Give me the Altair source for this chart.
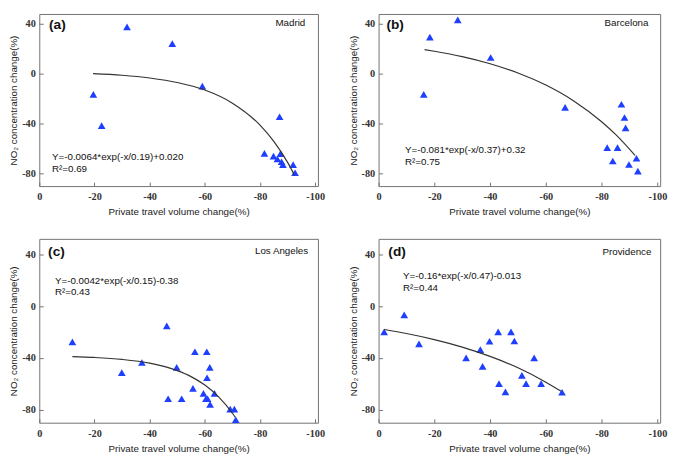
import altair as alt
import pandas as pd

# ---------------- data ----------------
X_TICKS = [0, -20, -40, -60, -80, -100]
Y_TICKS = [40, 0, -40, -80]

# (a) Madrid
a_x = [-31.8, -48.2, -59.1, -19.6, -22.6, -87.1, -81.6, -84.9, -86.3, -87.4, -87.8, -88.3, -92.0, -92.7]
a_y = [37.7, 24.2, -9.9, -16.4, -41.5, -34.4, -63.8, -66.0, -68.3, -64.0, -70.5, -72.8, -72.8, -79.3]
a_cx = [-19.5, -30, -40, -50, -60, -70, -80, -85, -90, -92.5]
a_cy = [0.2, -1.1, -3.3, -6.9, -13.0, -23.5, -41.1, -54.1, -71.0, -81.3]

# (b) Barcelona
b_x = [-28.4, -18.4, -40.2, -16.2, -66.9, -87.1, -88.2, -88.6, -82.0, -85.7, -84.0, -92.5, -89.8, -93.0]
b_y = [43.3, 29.4, 13.1, -16.4, -26.9, -24.4, -35.0, -43.3, -59.1, -59.1, -69.9, -67.7, -72.7, -78.0]
b_cx = [-16.5, -20, -30, -40, -50, -60, -70, -80, -85, -92]
b_cy = [19.4, 18.1, 13.8, 8.1, 0.7, -9.0, -21.7, -38.4, -48.6, -65.4]

# (c) Los Angeles
c_x = [-12.0, -29.9, -46.2, -37.2, -56.4, -60.7, -49.8, -61.8, -60.8, -55.7, -59.5, -60.4, -61.0,
       -61.9, -63.5, -46.7, -51.6, -69.2, -70.7, -71.2]
c_y = [-27.5, -51.3, -15.2, -43.5, -35.2, -35.2, -47.2, -47.2, -55.3, -63.5, -67.3, -71.5, -71.5,
       -75.8, -67.3, -71.5, -71.5, -79.5, -79.5, -87.7]
c_cx = [-12, -20, -30, -40, -50, -55, -60, -65, -70, -71]
c_cy = [-38.9, -39.6, -41.1, -44.0, -49.8, -54.4, -60.9, -70.0, -82.7, -85.8]

# (d) Providence
d_x = [-2.0, -9.2, -14.5, -31.4, -36.5, -37.3, -39.8, -42.9, -47.5, -48.7, -43.2, -45.5, -51.4,
       -52.9, -55.8, -58.3, -65.8]
d_y = [-19.8, -6.7, -29.1, -39.9, -33.5, -46.5, -27.1, -19.8, -19.8, -26.9, -59.8, -66.2, -53.4,
       -59.8, -39.9, -59.8, -66.5]
d_cx = [-2, -10, -20, -30, -40, -50, -60, -65.5]
d_cy = [-18.0, -21.1, -25.8, -31.6, -38.8, -47.6, -58.7, -65.8]

TAGS = ["(a)", "(b)", "(c)", "(d)"]
CITIES = ["Madrid", "Barcelona", "Los Angeles", "Providence"]
EQS = ["Y=-0.0064*exp(-x/0.19)+0.020", "Y=-0.081*exp(-x/0.37)+0.32",
       "Y=-0.0042*exp(-x/0.15)-0.38", "Y=-0.16*exp(-x/0.47)-0.013"]
R2S = ["R²=0.69", "R²=0.75", "R²=0.43", "R²=0.44"]

# ---------------- styling ----------------
GRAY = "#727272"
BLUE = "#1f3fff"
W1, W2 = 285, 288
H1, H2 = 176, 188
XD = [0, -101]
YD1 = [-90, 48]
YD2 = [-90, 52]
LAB = "datum.value < 0 ? '-' + abs(datum.value) : '' + datum.value"


def panel(px, py, cx, cy, idx, W, H, ydom, pos):
    xs = alt.Scale(domain=XD, nice=False, zero=False)
    ys = alt.Scale(domain=ydom, nice=False, zero=False)
    common_lab = dict(labelFont="Liberation Serif", labelFontWeight="bold", labelFontSize=10.5,
                      labelColor="#333", titleFont="Liberation Sans", titleFontSize=10,
                      titleFontWeight="normal", titleColor="#222", grid=False, domain=False,
                      ticks=False, labelExpr=LAB, minExtent=0, labelFlush=False)
    xaxis = alt.Axis(values=X_TICKS, labelPadding=6, titlePadding=5,
                     title="Private travel volume change(%)", **common_lab)
    yaxis = alt.Axis(values=Y_TICKS, labelPadding=4, titlePadding=3,
                     title="NO₂ concentration change(%)", **common_lab)
    xin = alt.Axis(orient="top", offset=-H, values=X_TICKS, labels=False, domain=False, grid=False,
                   ticks=True, tickSize=4, tickColor=GRAY, minExtent=0, title=None)
    yin = alt.Axis(orient="right", offset=-W, values=Y_TICKS, labels=False, domain=False, grid=False,
                   ticks=True, tickSize=4, tickColor=GRAY, minExtent=0, title=None)

    pts = alt.Chart(pd.DataFrame({"x": px, "y": py})).mark_point(
        shape="triangle-up", filled=True, color=BLUE, opacity=1, size=62
    ).encode(x=alt.X("x:Q", scale=xs, axis=xaxis), y=alt.Y("y:Q", scale=ys, axis=yaxis))

    crv = alt.Chart(pd.DataFrame({"x": cx, "y": cy})).mark_line(
        color="#333333", strokeWidth=1.2, interpolate="monotone"
    ).encode(x=alt.X("x:Q", scale=xs, axis=xin), y=alt.Y("y:Q", scale=ys, axis=yin))

    def txt(s, x, y, align, size, weight="normal"):
        return alt.Chart(pd.DataFrame({"t": [s]})).mark_text(
            align=align, baseline="middle", font="Liberation Sans", fontSize=size,
            fontWeight=weight, color="#111"
        ).encode(text="t:N", x=alt.value(x), y=alt.value(y))

    tag = txt(TAGS[idx], pos["tag"][0], pos["tag"][1], "left", 14, "bold")
    city = txt(CITIES[idx], W - pos["city"][0], pos["city"][1], "right", 10)
    eq = txt(EQS[idx], pos["eq"][0], pos["eq"][1], "left", 10)
    r2 = txt(R2S[idx], pos["eq"][0], pos["r2"], "left", 10)

    return alt.layer(pts, crv, tag, city, eq, r2).resolve_axis(
        x="independent", y="independent"
    ).properties(width=W, height=H)


pa = panel(a_x, a_y, a_cx, a_cy, 0, W1, H1, YD1,
           {"tag": (10, 11), "city": (13, 9), "eq": (13, H1 - 30), "r2": H1 - 17})
pb = panel(b_x, b_y, b_cx, b_cy, 1, W2, H1, YD1,
           {"tag": (8, 11), "city": (12, 9), "eq": (27, H1 - 37), "r2": H1 - 25})
pc = panel(c_x, c_y, c_cx, c_cy, 2, W1, H2, YD2,
           {"tag": (9, 13), "city": (10, 12), "eq": (16, 43), "r2": 54})
pd_ = panel(d_x, d_y, d_cx, d_cy, 3, W2, H2, YD2,
            {"tag": (10, 14), "city": (9, 13), "eq": (25, 38), "r2": 50})

row1 = alt.hconcat(pa, pb, spacing=22)
row2 = alt.hconcat(pc, pd_, spacing=22)
chart = alt.vconcat(row1, row2, spacing=21).properties(
    padding=0, background="white"
).configure_view(stroke=GRAY, strokeWidth=1)

chart.save("out.html", embed_options={"renderer": "svg", "actions": False})
